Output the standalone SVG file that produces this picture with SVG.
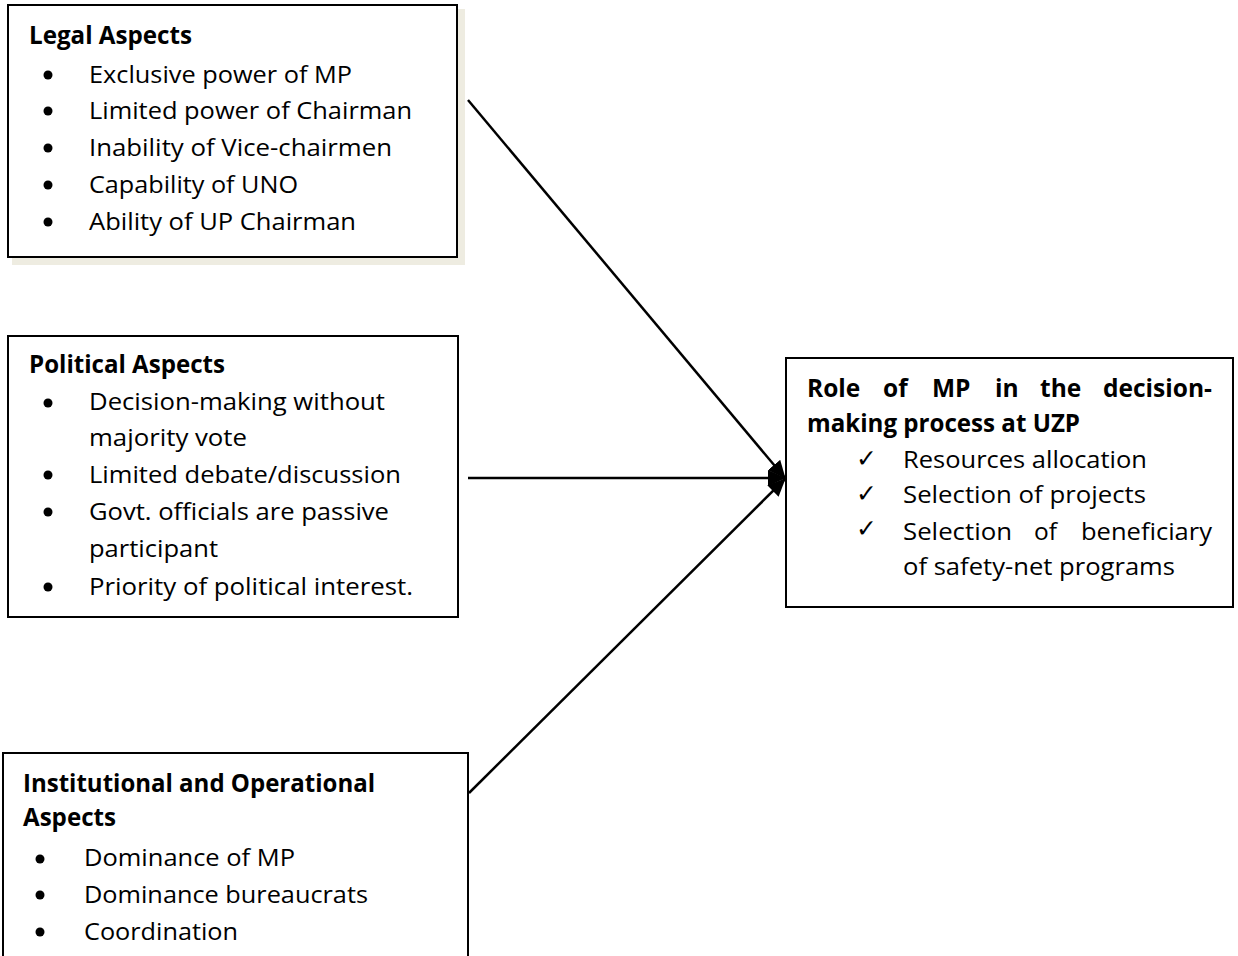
<svg xmlns="http://www.w3.org/2000/svg" width="1238" height="956" viewBox="0 0 1238 956">
<style>
.box{fill:#fff;stroke:#000;stroke-width:2}
.t{font-family:"Open Sans","Liberation Sans",sans-serif;font-size:24.5px;fill:#000}
.b{font-family:"Open Sans","Liberation Sans",sans-serif;font-size:24.5px;font-weight:bold;fill:#000}
.ck{font-family:"DejaVu Sans",sans-serif;font-size:25px;fill:#000}
.conn{stroke:#000;stroke-width:2.5;fill:none}
</style>
<defs>
<marker id="ah" markerUnits="userSpaceOnUse" markerWidth="20" markerHeight="16" refX="17" refY="8" orient="auto">
<path d="M0,0 L18,8 L0,16 Z" fill="#000"/>
</marker>
</defs>
<rect width="1238" height="956" fill="#fff"/>

<g id="connectors">
<line class="conn" x1="468" y1="100" x2="785" y2="478" marker-end="url(#ah)"/>
<line class="conn" x1="468" y1="478" x2="785" y2="478" marker-end="url(#ah)"/>
<line class="conn" x1="469" y1="793" x2="785" y2="479" marker-end="url(#ah)"/>
</g>

<g id="legal">
<rect x="12" y="9" width="453" height="256" fill="#eeece1"/>
<rect class="box" x="8" y="5" width="449" height="252"/>
<text class="b" x="29" y="44" textLength="163" lengthAdjust="spacingAndGlyphs">Legal Aspects</text>
<g fill="#000">
<circle cx="48" cy="75" r="4.5"/><circle cx="48" cy="111" r="4.5"/><circle cx="48" cy="148" r="4.5"/><circle cx="48" cy="185" r="4.5"/><circle cx="48" cy="222" r="4.5"/>
</g>
<text class="t" x="89" y="83" textLength="263" lengthAdjust="spacingAndGlyphs">Exclusive power of MP</text>
<text class="t" x="89" y="119" textLength="323" lengthAdjust="spacingAndGlyphs">Limited power of Chairman</text>
<text class="t" x="89" y="156" textLength="303" lengthAdjust="spacingAndGlyphs">Inability of Vice-chairmen</text>
<text class="t" x="89" y="193" textLength="209" lengthAdjust="spacingAndGlyphs">Capability of UNO</text>
<text class="t" x="89" y="230" textLength="267" lengthAdjust="spacingAndGlyphs">Ability of UP Chairman</text>
</g>

<g id="political">
<rect class="box" x="8" y="336" width="450" height="281"/>
<text class="b" x="29" y="373" textLength="196" lengthAdjust="spacingAndGlyphs">Political Aspects</text>
<g fill="#000">
<circle cx="48" cy="403" r="4.5"/><circle cx="48" cy="475" r="4.5"/><circle cx="48" cy="512" r="4.5"/><circle cx="48" cy="587" r="4.5"/>
</g>
<text class="t" x="89" y="410" textLength="296" lengthAdjust="spacingAndGlyphs">Decision-making without</text>
<text class="t" x="89" y="446" textLength="158" lengthAdjust="spacingAndGlyphs">majority vote</text>
<text class="t" x="89" y="483" textLength="312" lengthAdjust="spacingAndGlyphs">Limited debate/discussion</text>
<text class="t" x="89" y="520" textLength="300" lengthAdjust="spacingAndGlyphs">Govt. officials are passive</text>
<text class="t" x="89" y="557" textLength="129" lengthAdjust="spacingAndGlyphs">participant</text>
<text class="t" x="89" y="595" textLength="324" lengthAdjust="spacingAndGlyphs">Priority of political interest.</text>
</g>

<g id="institutional">
<rect class="box" x="3" y="753" width="465" height="220"/>
<text class="b" x="23" y="792" textLength="352" lengthAdjust="spacingAndGlyphs">Institutional and Operational</text>
<text class="b" x="23" y="826" textLength="93" lengthAdjust="spacingAndGlyphs">Aspects</text>
<g fill="#000">
<circle cx="40" cy="859" r="4.5"/><circle cx="40" cy="895" r="4.5"/><circle cx="40" cy="932" r="4.5"/>
</g>
<text class="t" x="84" y="866" textLength="211" lengthAdjust="spacingAndGlyphs">Dominance of MP</text>
<text class="t" x="84" y="903" textLength="284" lengthAdjust="spacingAndGlyphs">Dominance bureaucrats</text>
<text class="t" x="84" y="940" textLength="154" lengthAdjust="spacingAndGlyphs">Coordination</text>
</g>

<g id="role">
<rect class="box" x="786" y="358" width="447" height="249"/>
<text class="b" y="397"><tspan x="807">Role</tspan><tspan x="883">of</tspan><tspan x="932">MP</tspan><tspan x="995">in</tspan><tspan x="1040">the</tspan><tspan x="1103" textLength="109" lengthAdjust="spacingAndGlyphs">decision-</tspan></text>
<text class="b" x="807" y="432" textLength="273" lengthAdjust="spacingAndGlyphs">making process at UZP</text>
<text class="ck" x="856" y="467">✓</text>
<text class="ck" x="856" y="502">✓</text>
<text class="ck" x="856" y="537">✓</text>
<text class="t" x="903" y="468" textLength="244" lengthAdjust="spacingAndGlyphs">Resources allocation</text>
<text class="t" x="903" y="503" textLength="243" lengthAdjust="spacingAndGlyphs">Selection of projects</text>
<text class="t" y="540"><tspan x="903" textLength="109" lengthAdjust="spacingAndGlyphs">Selection</tspan><tspan x="1034">of</tspan><tspan x="1081" textLength="131" lengthAdjust="spacingAndGlyphs">beneficiary</tspan></text>
<text class="t" x="903" y="575" textLength="272" lengthAdjust="spacingAndGlyphs">of safety-net programs</text>
</g>
</svg>
